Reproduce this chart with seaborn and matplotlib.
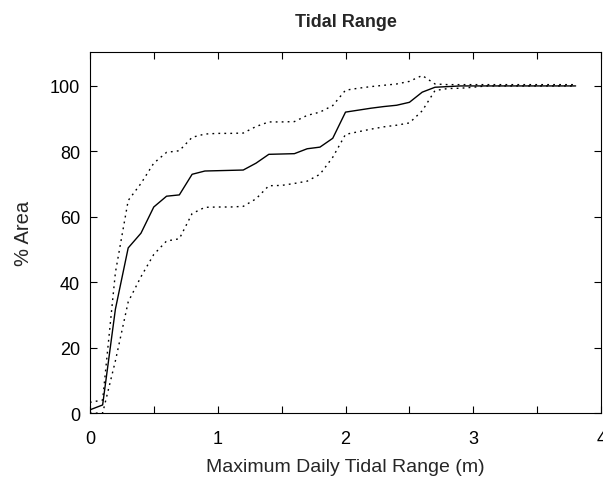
# tidal range area curve
import numpy as np
import pandas as pd
import seaborn as sns
import matplotlib.pyplot as plt
from matplotlib.ticker import MultipleLocator

tidal_range = [0.0, 0.1, 0.2, 0.3, 0.4, 0.5, 0.6, 0.7, 0.8, 0.9,
               1.0, 1.1, 1.2, 1.3, 1.4, 1.5, 1.6, 1.7, 1.8, 1.9,
               2.0, 2.1, 2.2, 2.3, 2.4, 2.5, 2.6, 2.7, 2.8, 2.9,
               3.0, 3.1, 3.2, 3.3, 3.4, 3.5, 3.6, 3.7, 3.8]
area_mean = [1.0, 2.5, 31.8, 50.5, 55.0, 63.0, 66.3, 66.7, 73.0, 74.0,
             74.1, 74.2, 74.3, 76.4, 79.1, 79.2, 79.3, 80.8, 81.3, 84.0,
             92.0, 92.6, 93.2, 93.7, 94.1, 95.0, 98.1, 99.6, 99.8, 100.0,
             100.0, 100.0, 100.0, 100.0, 100.0, 100.0, 100.0, 100.0, 100.0]
area_upper = [3.3, 4.0, 43.0, 65.0, 70.2, 76.4, 79.7, 80.2, 84.3, 85.3,
              85.5, 85.5, 85.6, 87.6, 89.0, 89.0, 89.1, 91.0, 92.0, 94.0,
              98.7, 99.3, 99.8, 100.2, 100.6, 101.4, 103.2, 100.6, 100.4, 100.4,
              100.4, 100.4, 100.4, 100.4, 100.4, 100.4, 100.4, 100.4, 100.4]
area_lower = [0.0, 0.0, 16.0, 34.0, 41.7, 48.5, 52.6, 53.3, 61.0, 62.9,
              63.0, 63.0, 63.2, 65.5, 69.5, 69.6, 70.2, 70.9, 73.0, 78.2,
              85.2, 86.0, 86.8, 87.5, 88.0, 88.7, 92.4, 98.6, 99.2, 99.3,
              99.6, 100.0, 100.0, 100.0, 100.0, 100.0, 100.0, 100.0, 100.0]

df = pd.DataFrame({'range': tidal_range, 'mean': area_mean,
                   'upper': area_upper, 'lower': area_lower})

sns.set_style('ticks')
plt.rcParams['font.family'] = ['Liberation Sans', 'DejaVu Sans']

fig = plt.figure(figsize=(6.03, 4.81), dpi=100)
ax = fig.add_axes([0.149, 0.139, 0.848, 0.751])

sns.lineplot(data=df, x='range', y='mean', color='black', linewidth=1.0, ax=ax)
sns.lineplot(data=df, x='range', y='upper', color='black', linewidth=1.0,
             dashes=False, ax=ax).lines[-1].set_dashes((1.3, 3))
sns.lineplot(data=df, x='range', y='lower', color='black', linewidth=1.0,
             dashes=False, ax=ax).lines[-1].set_dashes((1.3, 3))

ax.set_xlim(0, 4)
ax.set_ylim(0, 110.4)
ax.xaxis.set_major_locator(MultipleLocator(1))
ax.xaxis.set_minor_locator(MultipleLocator(0.5))
ax.yaxis.set_major_locator(MultipleLocator(20))
ax.tick_params(which='both', direction='in', length=5, width=0.8,
               top=True, right=True, labelsize=13, colors='black')
ax.tick_params(axis='x', pad=12)
ax.tick_params(axis='y', pad=7)
for s in ax.spines.values():
    s.set_linewidth(0.8)
    s.set_color('black')

ax.set_xlabel('Maximum Daily Tidal Range (m)', fontsize=14, labelpad=8)
ax.set_ylabel('% Area', fontsize=14.5, labelpad=12)
ax.set_title('Tidal Range', fontsize=13, fontweight='bold', pad=19)

fig.savefig('out.png', dpi=100)
